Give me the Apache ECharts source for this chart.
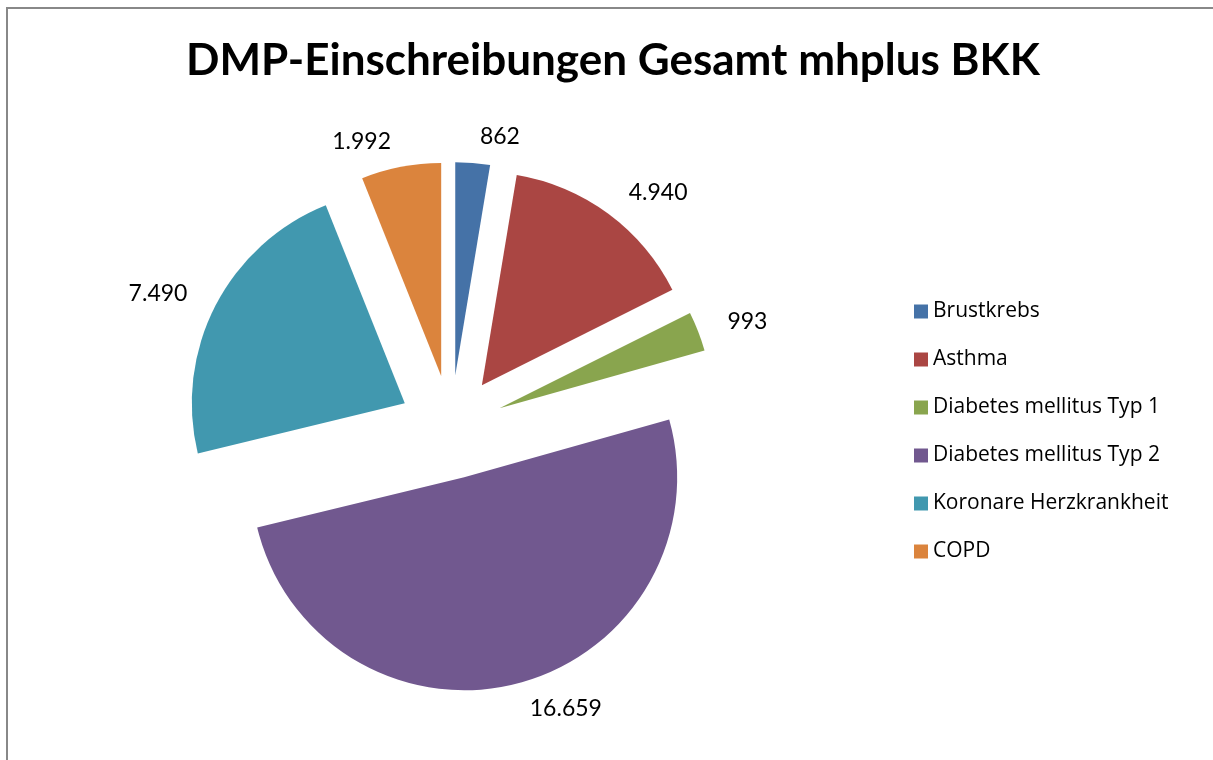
<!DOCTYPE html>
<html>
<head>
<meta charset="utf-8">
<script src="https://cdn.jsdelivr.net/npm/echarts@6/dist/echarts.min.js"></script>
<style>
  html, body { margin: 0; padding: 0; background: #fff; }
  #chart { width: 1213px; height: 760px; }
</style>
</head>
<body>
<div id="chart"></div>
<script>
var categories = ["Brustkrebs", "Asthma", "Diabetes mellitus Typ 1", "Diabetes mellitus Typ 2", "Koronare Herzkrankheit", "COPD"];
var values = [862, 4940, 993, 16659, 7490, 1992];
var colors = ["#4572A7", "#AA4643", "#89A54E", "#71588F", "#4198AF", "#DB843D"];

// German thousands separator
function fmt(v) {
  return String(v).replace(/\B(?=(\d{3})+(?!\d))/g, ".");
}

var chart = echarts.init(document.getElementById("chart"));

var pieData = categories.map(function (name, i) {
  return { name: name, value: values[i], selected: true, itemStyle: { color: colors[i] } };
});

var option = {
  backgroundColor: "#fff",
  animation: false,
  textStyle: { fontFamily: "Lato, 'Open Sans', sans-serif" },
  title: {
    text: "DMP-Einschreibungen Gesamt mhplus BKK",
    left: 181,
    top: 34,
    textStyle: { fontSize: 44, fontWeight: "bold", color: "#000", fontFamily: "Lato, 'Open Sans', sans-serif" }
  },
  legend: {
    orient: "vertical",
    left: 909,
    top: 296,
    icon: "rect",
    itemWidth: 14,
    itemHeight: 14,
    itemGap: 27,
    textStyle: { fontSize: 21, color: "#000", fontFamily: "'Open Sans', sans-serif" },
    selectedMode: false,
    data: categories
  },
  graphic: [{
    type: "polyline",
    shape: { points: [[7, 760], [7, 8], [1213, 8]] },
    style: { stroke: "#888", lineWidth: 2, fill: null }
  }],
  series: [{
    type: "pie",
    center: [451, 427],
    radius: 213,
    startAngle: 90,
    clockwise: true,
    selectedMode: "multiple",
    selectedOffset: 52,
    label: {
      show: true,
      position: "outside",
      fontSize: 23,
      color: "#000",
      formatter: function (p) { return fmt(p.value); }
    },
    labelLine: { show: false, length: 26, length2: 0 },
    emphasis: { disabled: true },
    data: pieData
  }]
};

chart.setOption(option);
</script>
</body>
</html>
